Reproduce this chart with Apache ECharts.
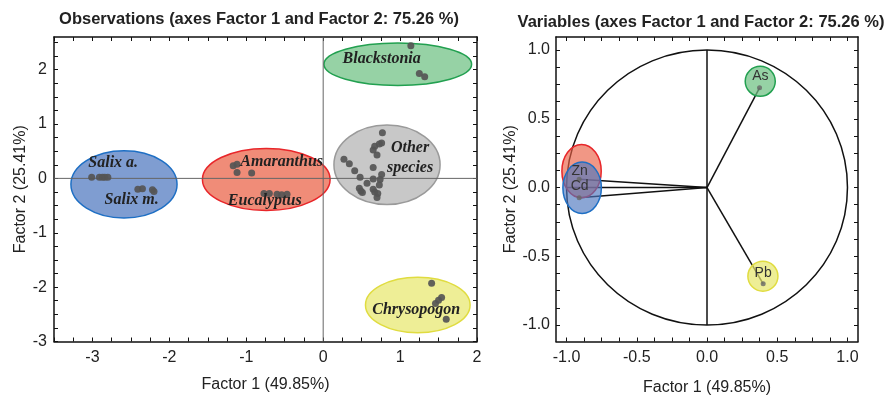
<!DOCTYPE html>
<html><head><meta charset="utf-8">
<script src="https://cdn.jsdelivr.net/npm/echarts@6/dist/echarts.min.js"></script>
<style>html,body{margin:0;padding:0;background:#fff}#c{width:890px;height:395px}</style>
</head><body><div id="c"></div>
<script>
// ===== Observations plot (left) =====
const obsTitle = 'Observations (axes Factor 1 and Factor 2: 75.26 %)';
const varTitle = 'Variables (axes Factor 1 and Factor 2: 75.26 %)';
const xAxisName = 'Factor 1 (49.85%)';
const yAxisName = 'Factor 2 (25.41%)';

// group ellipses (data units)
const ellipseCenterX = [-2.59, -0.74, 0.83, 0.97, 1.23];
const ellipseCenterY = [-0.11, -0.02, 0.25, 2.10, -2.33];
const ellipseRadiusX = [0.69, 0.83, 0.69, 0.96, 0.68];
const ellipseRadiusY = [0.62, 0.57, 0.73, 0.39, 0.51];

// observations
const salixA = [[-3.01,0.02],[-2.91,0.02],[-2.87,0.02],[-2.84,0.02],[-2.80,0.02]];
const salixM = [[-2.41,-0.20],[-2.35,-0.19],[-2.22,-0.21],[-2.20,-0.24]];
const amaranthus = [[-1.17,0.23],[-1.12,0.26],[-1.12,0.11],[-0.93,0.10]];
const eucalyptus = [[-0.77,-0.28],[-0.70,-0.28],[-0.60,-0.29],[-0.54,-0.30],[-0.47,-0.29]];
const otherSpecies = [[0.77,0.84],[0.76,0.65],[0.73,0.63],[0.67,0.59],[0.65,0.52],[0.70,0.43],
  [0.27,0.35],[0.34,0.27],[0.65,0.20],[0.41,0.14],[0.76,0.07],[0.48,0.02],[0.65,-0.01],
  [0.74,-0.02],[0.57,-0.09],[0.73,-0.12],[0.47,-0.18],[0.49,-0.23],[0.65,-0.20],[0.67,-0.25],
  [0.51,-0.26],[0.71,-0.28],[0.70,-0.35]];
const blackstonia = [[1.14,2.44],[1.25,1.93],[1.32,1.87]];
const chrysopogon = [[1.41,-1.93],[1.54,-2.19],[1.50,-2.24],[1.46,-2.30],[1.60,-2.59]];

// group labels
const groupLabels = ['Salix a.','Salix m.','Amaranthus','Eucalyptus','Other\nspecies','Blackstonia','Chrysopogon'];
const groupLabelX = [-2.73,-2.49,-0.54,-0.76,1.13,0.76,1.21];
const groupLabelY = [0.28,-0.40,0.31,-0.41,0.37,2.19,-2.42];

// tick labels
const obsXTickLabels = [-3,-2,-1,0,1,2];
const obsYTickLabels = [-3,-2,-1,0,1,2];

// ===== Variables plot (right) =====
const varNames = ['As','Pb','Zn','Cd'];
const loadingX = [0.374, 0.40, -0.91, -0.91];
const loadingY = [0.725, -0.70, 0.06, -0.075];
const varAreaX = [0.379, 0.398, -0.893, -0.889];
const varAreaY = [0.773, -0.645, 0.119, -0.002];
const varAreaRx = [0.107, 0.107, 0.14, 0.137];
const varAreaRy = [0.109, 0.109, 0.194, 0.187];
const varLabelX = [0.38, 0.40, -0.907, -0.907];
const varLabelY = [0.807, -0.62, 0.119, 0.01];
const varTickLabels = [-1, -0.5, 0, 0.5, 1];

// ---- styles ----
const FONT = "'Liberation Sans', Arial, sans-serif";
const AX_FS = 16;
const ellipseFill = ['rgba(77,119,191,0.72)','rgba(234,95,68,0.72)','rgba(179,179,179,0.72)','rgba(109,192,130,0.72)','rgba(231,231,109,0.72)'];
const ellipseStroke = ['#1e6fc4','#e8262a','#9a9a9a','#22a050','#e0dc40'];
const varFill = ['rgba(109,192,130,0.72)','rgba(231,231,109,0.72)','rgba(234,95,68,0.65)','rgba(77,119,191,0.65)'];
const varStroke = ['#22a050','#e0dc40','#e8262a','#1e6fc4'];

function ticks(from, to, step){const a=[];for(let v=from; v<=to+1e-9; v+=step) a.push(Math.round(v*1000)/1000);return a;}

function axis(o){
  return {
    type:'value', min:o.min, max:o.max, gridIndex:o.grid, position:o.pos,
    axisLine:{show:true,onZero:false,lineStyle:{color:'#111',width:1.5}},
    axisTick:{show:true,inside:true,length:4,customValues:o.ticks,lineStyle:{color:'#111',width:1}},
    axisLabel: o.labels ? {show:true,customValues:o.labels,formatter:o.fmt,margin:o.margin,fontSize:AX_FS,color:'#222',fontFamily:FONT} : {show:false},
    splitLine:{show:false},
    name:o.name||'', nameLocation:'middle', nameGap:o.nameGap||0,
    nameTextStyle:{fontSize:AX_FS,color:'#222',fontFamily:FONT}
  };
}

const obsXT = ticks(-3.5, 2, 0.25), obsYT = ticks(-3, 2.5, 0.25), varT = ticks(-1, 1, 0.125);
const intFmt = v => String(v);
const decFmt = v => v.toFixed(1);

function ellipseItem(fill, stroke, lw){
  return function(p, api){
    const c = api.coord([api.value(0), api.value(1)]);
    const s = api.size([api.value(2), api.value(3)]);
    return {type:'ellipse', shape:{cx:c[0],cy:c[1],rx:s[0],ry:s[1]},
      style:{fill: fill ? fill[p.dataIndex] : 'none', stroke: Array.isArray(stroke) ? stroke[p.dataIndex] : stroke, lineWidth: lw}};
  };
}
function segItem(color, lw){
  return function(p, api){
    const a = api.coord([api.value(0), api.value(1)]);
    const b = api.coord([api.value(2), api.value(3)]);
    return {type:'line', shape:{x1:a[0],y1:a[1],x2:b[0],y2:b[1]}, style:{stroke:color,lineWidth:lw}};
  };
}
function textItem(texts, style){
  return function(p, api){
    const c = api.coord([api.value(0), api.value(1)]);
    return {type:'text', x:c[0], y:c[1], style:Object.assign({text:texts[p.dataIndex], align:'center', verticalAlign:'middle'}, style)};
  };
}

const obsGroups = [salixA, salixM, amaranthus, eucalyptus, otherSpecies, blackstonia, chrysopogon];

const series = [];
series.push({type:'custom', xAxisIndex:0, yAxisIndex:0, z:1, silent:true,
  data: ellipseCenterX.map((x,i)=>[x, ellipseCenterY[i], ellipseRadiusX[i], ellipseRadiusY[i]]),
  renderItem: ellipseItem(ellipseFill, ellipseStroke, 1.5)});
series.push({type:'custom', xAxisIndex:0, yAxisIndex:0, z:2, silent:true, data:[[0,0]],
  renderItem:(p, api)=>{
    const cs = p.coordSys, o = api.coord([0,0]);
    return {type:'group', children:[
      {type:'line', shape:{x1:cs.x,y1:o[1],x2:cs.x+cs.width,y2:o[1]}, style:{stroke:'#666',lineWidth:1}},
      {type:'line', shape:{x1:o[0],y1:cs.y,x2:o[0],y2:cs.y+cs.height}, style:{stroke:'#666',lineWidth:1}}]};
  }});
obsGroups.forEach(g => series.push({type:'scatter', xAxisIndex:0, yAxisIndex:0, z:3, silent:true,
  symbolSize:7, itemStyle:{color:'#555', opacity:0.92}, data:g}));
series.push({type:'custom', xAxisIndex:0, yAxisIndex:0, z:4, silent:true,
  data: groupLabelX.map((x,i)=>[x, groupLabelY[i]]),
  renderItem: textItem(groupLabels, {fill:'#222', fontSize:16, fontWeight:'bold', fontStyle:'italic', fontFamily:"'Liberation Serif','Times New Roman',serif", lineHeight:20})});

series.push({type:'custom', xAxisIndex:2, yAxisIndex:2, z:1, silent:true, data:[[0,0,1,1]],
  renderItem: ellipseItem(null, '#111', 1.5)});
series.push({type:'custom', xAxisIndex:2, yAxisIndex:2, z:2, silent:true,
  data:[[0,-1,0,1],[-1,0,0,0]], renderItem: segItem('#111', 1.5)});
series.push({type:'custom', xAxisIndex:2, yAxisIndex:2, z:2, silent:true,
  data: loadingX.map((x,i)=>[0,0,x,loadingY[i]]), renderItem: segItem('#111', 1.5)});
series.push({type:'custom', xAxisIndex:2, yAxisIndex:2, z:3, silent:true,
  data: varAreaX.map((x,i)=>[x, varAreaY[i], varAreaRx[i], varAreaRy[i]]),
  renderItem: ellipseItem(varFill, varStroke, 1.5)});
series.push({type:'scatter', xAxisIndex:2, yAxisIndex:2, z:4, silent:true, symbolSize:5,
  itemStyle:{color:'#666'}, data: loadingX.map((x,i)=>[x, loadingY[i]])});
series.push({type:'custom', xAxisIndex:2, yAxisIndex:2, z:5, silent:true,
  data: varLabelX.map((x,i)=>[x, varLabelY[i]]),
  renderItem: textItem(varNames, {fill:'#333', fontSize:14, fontFamily:FONT})});

const option = {
  animation:false,
  backgroundColor:'#fff',
  title:[
    {text:obsTitle, left:259, top:11, textAlign:'center', padding:0,
     textStyle:{fontSize:16.5, fontWeight:'bold', color:'#222', fontFamily:FONT}},
    {text:varTitle, left:701, top:14, textAlign:'center', padding:0,
     textStyle:{fontSize:16.5, fontWeight:'bold', color:'#222', fontFamily:FONT}}
  ],
  grid:[
    {left:54, top:37, width:423, height:304.5, containLabel:false, outerBoundsMode:'none'},
    {left:556, top:37, width:302, height:304.5, containLabel:false, outerBoundsMode:'none'}
  ],
  xAxis:[
    axis({grid:0,pos:'bottom',min:-3.5,max:2,ticks:obsXT,labels:obsXTickLabels,fmt:intFmt,margin:8,name:xAxisName,nameGap:35}),
    axis({grid:0,pos:'top',min:-3.5,max:2,ticks:obsXT}),
    axis({grid:1,pos:'bottom',min:-1.075,max:1.075,ticks:varT,labels:varTickLabels,fmt:decFmt,margin:8,name:xAxisName,nameGap:38}),
    axis({grid:1,pos:'top',min:-1.075,max:1.075,ticks:varT})
  ],
  yAxis:[
    axis({grid:0,pos:'left',min:-3,max:2.6,ticks:obsYT,labels:obsYTickLabels,fmt:intFmt,margin:7,name:yAxisName,nameGap:24}),
    axis({grid:0,pos:'right',min:-3,max:2.6,ticks:obsYT}),
    axis({grid:1,pos:'left',min:-1.12,max:1.095,ticks:varT,labels:varTickLabels,fmt:decFmt,margin:6,name:yAxisName,nameGap:36}),
    axis({grid:1,pos:'right',min:-1.12,max:1.095,ticks:varT})
  ],
  series: series
};
echarts.init(document.getElementById('c'), null, {renderer:'canvas'}).setOption(option);
</script></body></html>
